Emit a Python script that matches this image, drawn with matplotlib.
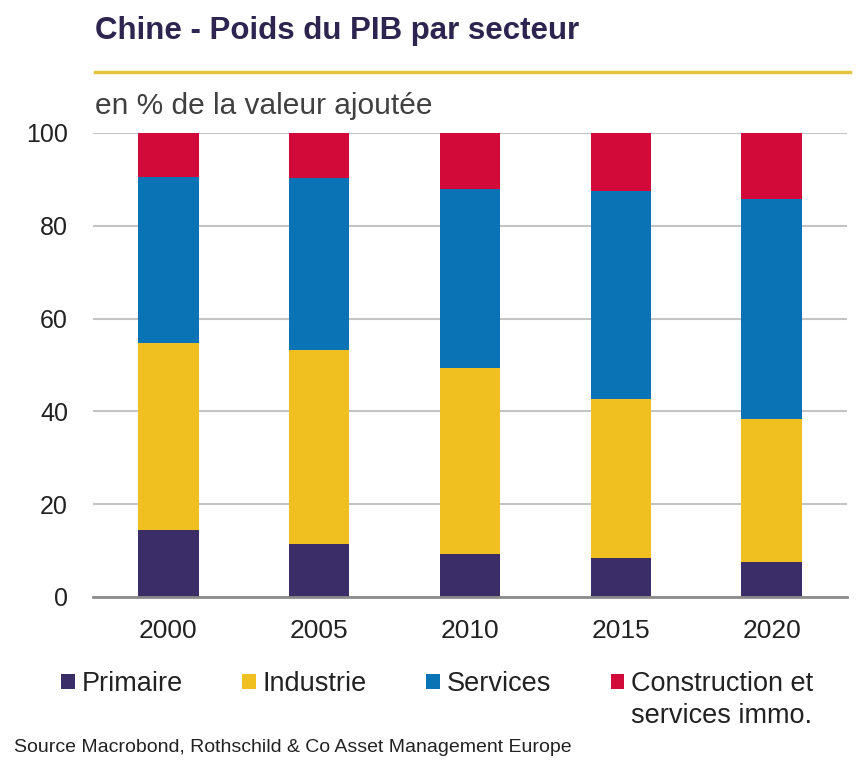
import matplotlib
matplotlib.use("Agg")
import matplotlib.pyplot as plt
import numpy as np

plt.rcParams['font.family'] = ['Liberation Sans', 'DejaVu Sans']

years = ['2000', '2005', '2010', '2015', '2020']
primaire = [14.4, 11.4, 9.3, 8.4, 7.5]
industrie = [40.3, 41.8, 40.1, 34.3, 30.9]
services = [35.8, 37.1, 38.5, 44.8, 47.4]
construction = [9.5, 9.7, 12.1, 12.5, 14.2]

labels = ['Primaire', 'Industrie', 'Services', 'Construction et']
colors = ['#3b2d68', '#f0c020', '#0a73b6', '#d20a3a']

W, H = 864, 773
fig = plt.figure(figsize=(W / 100, H / 100), dpi=100)
ax = fig.add_axes([93 / W, (H - 597) / H, (847 - 93) / W, 464 / H])

x = np.arange(len(years))
bottom = np.zeros(len(years))
for vals, lab, col in zip([primaire, industrie, services, construction], labels, colors):
    ax.bar(x, vals, bottom=bottom, width=0.40, color=col, label=lab, zorder=3)
    bottom += np.array(vals)

ax.set_ylim(0, 100)
ax.set_xlim(-0.5, 4.5)
ax.set_yticks([0, 20, 40, 60, 80, 100])
ax.set_xticks(x)
ax.set_xticklabels(years)
ax.grid(axis='y', color='#c4c4c4', linewidth=1.5, zorder=0)
ax.set_axisbelow(True)
for s in ['top', 'right', 'left']:
    ax.spines[s].set_visible(False)
ax.spines['bottom'].set_color('#8c8c8c')
ax.spines['bottom'].set_linewidth(2)
ax.spines['bottom'].set_zorder(4)
ax.tick_params(axis='both', length=0, colors='#222222')
ax.tick_params(axis='x', labelsize=19, pad=16)
ax.tick_params(axis='y', labelsize=18, pad=18)

fig.text(95 / W, 1 - 31 / H, 'Chine - Poids du PIB par secteur', fontsize=22.5,
         fontweight='bold', color='#2d2550', va='center', ha='left')
fig.add_artist(plt.Line2D([95 / W, 850 / W], [1 - 72 / H, 1 - 72 / H],
                          color='#e3c440', linewidth=2.5))
fig.text(95 / W, 1 - 106 / H, 'en % de la valeur ajoutée', fontsize=21.5,
         color='#404040', va='center', ha='left')

leg = fig.legend(loc='center left', bbox_to_anchor=(61 / W, 1 - 684 / H), ncol=4,
                 frameon=False, fontsize=19.5, handlelength=0.5, handleheight=0.5,
                 handletextpad=0.25, columnspacing=2.2, borderaxespad=0,
                 borderpad=0, labelcolor='#222222')

# second line of the last legend label, aligned under its first line
fig.canvas.draw()
bb = leg.get_texts()[3].get_window_extent()
fig.text(bb.x0 / W, 1 - 716 / H, 'services immo.', fontsize=19.5,
         color='#222222', va='center', ha='left')

fig.text(14 / W, 1 - 748 / H, 'Source Macrobond, Rothschild & Co Asset Management Europe',
         fontsize=14, color='#222222', va='center', ha='left')

fig.savefig('out.png', dpi=100)
